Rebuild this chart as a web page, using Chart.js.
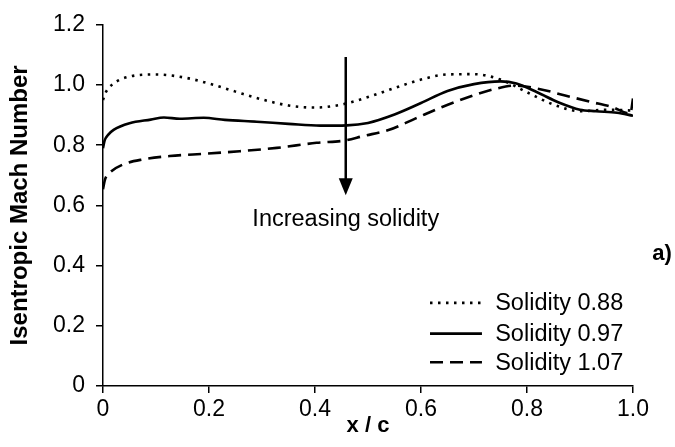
<!DOCTYPE html>
<html><head><meta charset="utf-8">
<script src="https://cdn.jsdelivr.net/npm/chart.js@4.4.1/dist/chart.umd.min.js"></script>
<style>html,body{margin:0;padding:0;background:#fff;overflow:hidden}#wrap{width:675px;height:447px}</style>
</head><body><div id="wrap"><canvas id="c" width="675" height="447"></canvas></div>
<script>
// ---- data ----
const seriesLabels = ['Solidity 0.88', 'Solidity 0.97', 'Solidity 1.07'];
const x088 = [0, 0.005, 0.02, 0.05, 0.1, 0.15, 0.2, 0.25, 0.3, 0.35, 0.4, 0.45, 0.5, 0.55, 0.6, 0.65, 0.7, 0.75, 0.8, 0.85, 0.9, 0.95, 1.0];
const m088 = [0.95, 0.975, 1.005, 1.028, 1.035, 1.026, 1.005, 0.978, 0.952, 0.932, 0.925, 0.935, 0.96, 0.99, 1.018, 1.035, 1.036, 1.018, 0.976, 0.935, 0.913, 0.918, 0.915];
const x097 = [0, 0.003, 0.01, 0.02, 0.05, 0.09, 0.115, 0.145, 0.19, 0.23, 0.29, 0.35, 0.41, 0.46, 0.5, 0.55, 0.6, 0.65, 0.7, 0.75, 0.78, 0.82, 0.86, 0.9, 0.93, 0.97, 1.0];
const m097 = [0.79, 0.815, 0.835, 0.851, 0.873, 0.885, 0.892, 0.888, 0.891, 0.884, 0.878, 0.871, 0.865, 0.866, 0.874, 0.902, 0.94, 0.98, 1.003, 1.012, 1.005, 0.975, 0.942, 0.918, 0.913, 0.908, 0.898];
const x107 = [0, 0.004, 0.013, 0.038, 0.076, 0.126, 0.196, 0.258, 0.328, 0.403, 0.458, 0.49, 0.54, 0.59, 0.64, 0.69, 0.74, 0.775, 0.82, 0.87, 0.92, 0.96, 0.995, 1.0];
const m107 = [0.654, 0.687, 0.709, 0.736, 0.753, 0.764, 0.772, 0.780, 0.791, 0.808, 0.816, 0.830, 0.851, 0.889, 0.927, 0.960, 0.987, 0.998, 0.988, 0.966, 0.944, 0.927, 0.905, 0.955];
const xTickValues = [0, 0.2, 0.4, 0.6, 0.8, 1.0];
const xTickLabels = ['0', '0.2', '0.4', '0.6', '0.8', '1.0'];
const yTickValues = [0, 0.2, 0.4, 0.6, 0.8, 1.0, 1.2];
const yTickLabels = ['0', '0.2', '0.4', '0.6', '0.8', '1.0', '1.2'];
const xTitle = 'x / c';
const yTitle = 'Isentropic Mach Number';
const arrowText = 'Increasing solidity';
const panelText = 'a)';

// ---- styling ----
const FONT = "'Liberation Sans', Arial, Helvetica, sans-serif";
Chart.defaults.font.family = FONT;
Chart.defaults.color = '#000';

const styles = [
  { borderDash: [2.5, 5.5], borderWidth: 2.6 },
  { borderDash: [], borderWidth: 2.6 },
  { borderDash: [13, 7], borderWidth: 2.6 }
];
const xs = [x088, x097, x107];
const ms = [m088, m097, m107];

const datasets = seriesLabels.map((lab, k) => ({
  label: lab,
  data: xs[k].map((x, i) => ({ x: x, y: ms[k][i] })),
  borderColor: '#000',
  backgroundColor: '#000',
  borderWidth: styles[k].borderWidth,
  borderDash: styles[k].borderDash,
  borderCapStyle: 'butt',
  fill: false,
  pointRadius: 0,
  tension: 0.4,
  cubicInterpolationMode: 'monotone'
}));

const annot = {
  id: 'annot',
  afterDatasetsDraw(chart) {
    const ctx = chart.ctx, xs_ = chart.scales.x, ys_ = chart.scales.y;
    ctx.save();
    ctx.fillStyle = '#000'; ctx.strokeStyle = '#000';
    // arrow
    const ax = xs_.getPixelForValue(0.458);
    const y0 = ys_.getPixelForValue(1.093), y1 = ys_.getPixelForValue(0.634);
    ctx.lineWidth = 2.5; ctx.setLineDash([]);
    ctx.beginPath(); ctx.moveTo(ax, y0); ctx.lineTo(ax, y1 - 14); ctx.stroke();
    ctx.beginPath(); ctx.moveTo(ax - 7, y1 - 17); ctx.lineTo(ax + 7, y1 - 17); ctx.lineTo(ax, y1); ctx.closePath(); ctx.fill();
    // arrow text
    ctx.font = '23.5px ' + FONT; ctx.textAlign = 'center'; ctx.textBaseline = 'alphabetic';
    ctx.fillText(arrowText, ax, ys_.getPixelForValue(0.532));
    // panel label
    ctx.font = 'bold 22px ' + FONT;
    ctx.fillText(panelText, xs_.getPixelForValue(1.055), ys_.getPixelForValue(0.418));
    // legend
    const rowV = [0.276, 0.174, 0.079];
    const lx0 = xs_.getPixelForValue(0.617), lx1 = xs_.getPixelForValue(0.715), tx = xs_.getPixelForValue(0.740);
    ctx.font = '23.5px ' + FONT; ctx.textAlign = 'left'; ctx.textBaseline = 'middle';
    chart.data.datasets.forEach((ds, k) => {
      const yy = ys_.getPixelForValue(rowV[k]);
      ctx.lineWidth = ds.borderWidth; ctx.setLineDash(ds.borderDash); ctx.lineCap = 'butt';
      ctx.beginPath(); ctx.moveTo(lx0, yy); ctx.lineTo(lx1, yy); ctx.stroke();
      ctx.setLineDash([]);
      ctx.fillText(ds.label, tx, yy + 1);
    });
    ctx.restore();
  }
};

new Chart(document.getElementById('c'), {
  type: 'line',
  data: { datasets: datasets },
  options: {
    responsive: false, animation: false, devicePixelRatio: 1,
    layout: { padding: { left: 0, right: 42, top: 20, bottom: 0 } },
    plugins: { legend: { display: false }, tooltip: { enabled: false } },
    scales: {
      x: {
        type: 'linear', min: 0, max: 1,
        afterBuildTicks: s => { s.ticks = xTickValues.map(v => ({ value: v })); },
        afterFit: s => { s.height = 61; },
        ticks: { callback: (v, i) => xTickLabels[i], font: { size: 23 }, padding: 3, maxRotation: 0, autoSkip: false, color: '#000' },
        grid: { drawOnChartArea: false, drawTicks: true, tickLength: 7, color: '#000', lineWidth: 1.5 },
        border: { display: true, color: '#000', width: 1.5 },
        title: { display: true, text: xTitle, font: { size: 22, weight: 'bold' }, color: '#000', padding: { top: 0, bottom: 8 } }
      },
      y: {
        type: 'linear', min: 0, max: 1.2,
        afterBuildTicks: s => { s.ticks = yTickValues.map(v => ({ value: v })); },
        afterFit: s => { s.width = 103; },
        ticks: { callback: (v, i) => yTickLabels[i], font: { size: 23 }, padding: 11, autoSkip: false, color: '#000' },
        grid: { drawOnChartArea: false, drawTicks: true, tickLength: 7, color: '#000', lineWidth: 1.5 },
        border: { display: true, color: '#000', width: 1.5 },
        title: { display: true, text: yTitle, font: { size: 24, weight: 'bold' }, color: '#000', padding: { top: 6, bottom: 0 } }
      }
    }
  },
  plugins: [annot]
});
</script>
</body></html>
